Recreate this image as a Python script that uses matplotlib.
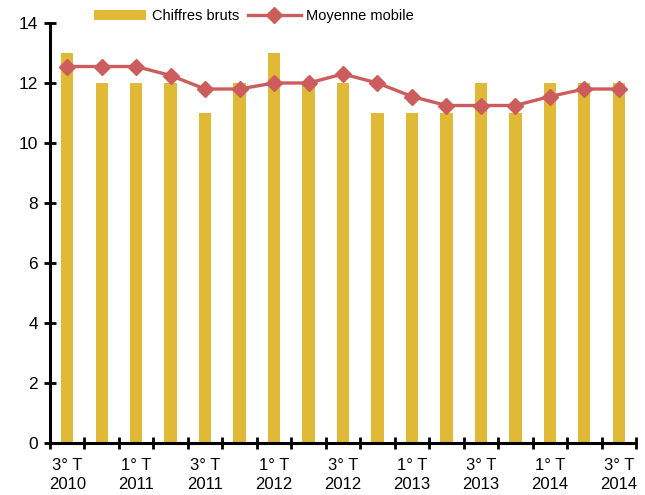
import matplotlib
matplotlib.use("Agg")
import matplotlib.pyplot as plt
import numpy as np

plt.rcParams["font.family"] = ["Liberation Sans", "DejaVu Sans"]

quarters = ["3° T\n2010", "", "1° T\n2011", "", "3° T\n2011", "", "1° T\n2012", "",
            "3° T\n2012", "", "1° T\n2013", "", "3° T\n2013", "", "1° T\n2014", "",
            "3° T\n2014"]
chiffres_bruts = [13, 12, 12, 12, 11, 12, 13, 12, 12, 11, 11, 11, 12, 11, 12, 12, 12]
moyenne_mobile = [12.55, 12.55, 12.55, 12.25, 11.8, 11.8, 12, 12, 12.3, 12,
                  11.55, 11.25, 11.25, 11.25, 11.55, 11.8, 11.8]

bar_color = "#e0b936"
line_color = "#cd5c5c"

fig = plt.figure(figsize=(6.45, 4.95), dpi=100)
ax = fig.add_axes([50 / 645, 1 - 443 / 495, 586 / 645, 420 / 495])

x = np.arange(len(chiffres_bruts))
bars = ax.bar(x, chiffres_bruts, width=0.36, color=bar_color, label="Chiffres bruts", zorder=2)
line, = ax.plot(x, moyenne_mobile, color=line_color, lw=2.4, marker="D", ms=8,
                label="Moyenne mobile", zorder=3)

ax.set_xlim(-0.5, len(x) - 0.5)
ax.set_ylim(0, 14)
ax.set_yticks(range(0, 15, 2))

ax.set_xticks(x)
ax.set_xticklabels(quarters, fontsize=12, linespacing=1.35)
ax.tick_params(axis="x", which="major", length=0, pad=11)
ax.set_xticks(np.arange(-0.5, len(x), 1), minor=True)
ax.tick_params(axis="x", which="minor", direction="inout", length=8, width=2)
ax.tick_params(axis="y", direction="inout", length=9, width=2, labelsize=12.5, pad=4)

for s in ["top", "right"]:
    ax.spines[s].set_visible(False)
for s in ["left", "bottom"]:
    ax.spines[s].set_linewidth(2.2)

ax.legend([bars, line], ["Chiffres bruts", "Moyenne mobile"],
          loc="upper left", bbox_to_anchor=(85 / 645, 1.0), bbox_transform=fig.transFigure,
          ncol=2, frameon=False, fontsize=10.5, handlelength=3.6, columnspacing=0.6,
          handletextpad=0.4, borderaxespad=0.2)

plt.savefig("out.png", dpi=100)
